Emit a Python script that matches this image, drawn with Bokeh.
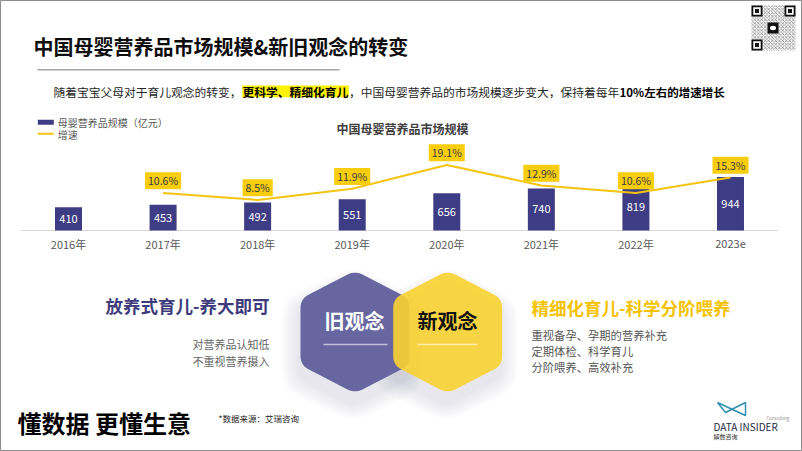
import numpy as np
from bokeh.plotting import figure
from bokeh.models import Range1d
from bokeh.core.properties import value
from bokeh.embed import file_html
from bokeh.resources import INLINE

# ---------------- data ----------------
years = ["2016年", "2017年", "2018年", "2019年", "2020年", "2021年", "2022年", "2023e"]
market_size = [410, 453, 492, 551, 656, 740, 819, 944]          # 亿元
growth_years = ["2017年", "2018年", "2019年", "2020年", "2021年", "2022年", "2023e"]
growth_rate = [10.6, 8.5, 11.9, 19.1, 12.9, 10.6, 15.3]          # %
growth_labels = [f"{g}%" for g in growth_rate]

title_text = "中国母婴营养品市场规模&新旧观念的转变"
chart_title = "中国母婴营养品市场规模"
legend_labels = ["母婴营养品规模（亿元）", "增速"]
sub_parts = ["随着宝宝父母对于育儿观念的转变，", "更科学、精细化育儿",
             "，中国母婴营养品的市场规模逐步变大，保持着每年", "10%左右的增速增长"]
old_title = "放养式育儿-养大即可"
old_points = ["对营养品认知低", "不重视营养摄入"]
new_title = "精细化育儿-科学分阶喂养"
new_points = ["重视备孕、孕期的营养补充", "定期体检、科学育儿", "分阶喂养、高效补充"]

# ---------------- layout ----------------
W, H = 802, 451
REF_W, REF_H = 802, 451
S = W / REF_W
Y_TOP = (REF_H - H / S) / 2
Y_BOT = Y_TOP + H / S
FONT = value("Noto Sans CJK SC")

BAR_COLOR = "#3E3C84"
LINE_COLOR = "#F4C40F"
BOX_COLOR = "#F8CD0E"
PURPLE = "#6866A0"
YELLOW = "#F8D230"

# chart mapping (reference pixel geometry)
X0, XSTEP = 68.0, 94.57
BASE_Y, VSCALE = 230.0, 0.0568
GBASE_Y, GSCALE = 227.5, 3.3

p = figure(width=W, height=H, x_range=Range1d(0, REF_W), y_range=Range1d(Y_BOT, Y_TOP),
           output_backend="svg", toolbar_location=None, min_border=0,
           x_axis_location=None, y_axis_location=None)
p.grid.visible = False
p.outline_line_color = "#8c8c8c"
p.outline_line_width = 1
p.background_fill_color = "white"
p.border_fill_color = "white"

p.extra_x_ranges = {"cat": Range1d((0 - X0) / XSTEP, (REF_W - X0) / XSTEP)}
p.extra_y_ranges = {
    "val": Range1d((BASE_Y - Y_BOT) / VSCALE, (BASE_Y - Y_TOP) / VSCALE),
    "g": Range1d((GBASE_Y - Y_BOT) / GSCALE, (GBASE_Y - Y_TOP) / GSCALE),
}


def fs(px):
    return f"{px * S:.2f}px"


def txt(x, y, s, size, color="#333333", bold=False, align="left", baseline="middle",
        xr="default", yr="default", **kw):
    xs = x if isinstance(x, list) else [x]
    ys = y if isinstance(y, list) else [y]
    ss = s if isinstance(s, list) else [s]
    return p.text(x=xs, y=ys, text=ss, text_font=FONT, text_font_size=fs(size),
                  text_color=color, text_font_style="bold" if bold else "normal",
                  text_align=align, text_baseline=baseline,
                  x_range_name=xr, y_range_name=yr, **kw)


# ---------------- header ----------------
txt(33, 46, title_text, 20, color="#0d0d0d", bold=True)
p.line([37, 339], [69.3, 69.3], line_color="#a6a6a6", line_width=1.5)

p.quad(left=241.7, right=348.3, top=85, bottom=96.7, fill_color="#FFF200", line_color=None)
txt(53, 91, sub_parts[0], 11.75, color="#262626")
txt(242, 91, sub_parts[1], 11.75, color="#000000", bold=True)
txt(348.5, 91, sub_parts[2], 11.75, color="#262626")
txt(619, 91, sub_parts[3], 11.5, color="#000000", bold=True)

# QR code (decorative)
p.quad(left=751, right=795, top=5, bottom=50, fill_color="white", line_color=None,
       hatch_pattern="x", hatch_color="#222222", hatch_scale=3.5, hatch_weight=0.8, hatch_alpha=0.55)
for (qx, qy) in [(751, 5), (784, 5), (751, 39)]:
    p.quad(left=qx, right=qx + 11, top=qy, bottom=qy + 11, fill_color="#111111", line_color=None)
    p.quad(left=qx + 1.8, right=qx + 9.2, top=qy + 1.8, bottom=qy + 9.2, fill_color="white", line_color=None)
    p.quad(left=qx + 3.5, right=qx + 7.5, top=qy + 3.5, bottom=qy + 7.5, fill_color="#111111", line_color=None)
p.quad(left=767, right=778, top=22, bottom=33, fill_color="#111111", line_color=None)
p.ellipse(x=[772.5], y=[27.5], width=6, height=4.5, fill_color="white", line_color=None)

# ---------------- chart ----------------
idx = list(range(len(years)))
gidx = [years.index(y) for y in growth_years]

# legend
p.quad(left=37.3, right=53.3, top=119.3, bottom=124.3, fill_color=BAR_COLOR, line_color=None)
txt(57.3, 121.8, legend_labels[0], 10, color="#595959")
p.line([37.3, 53.3], [133.3, 133.3], line_color=LINE_COLOR, line_width=2)
txt(57.3, 133.5, legend_labels[1], 10, color="#595959")

txt(402, 128, chart_title, 12, color="#404040", bold=True, align="center")

# baseline
p.segment(x0=[idx[0] - 0.5], x1=[idx[-1] + 0.5], y0=[0], y1=[0], line_color="#d9d9d9",
          line_width=1, x_range_name="cat", y_range_name="val")

# bars
p.vbar(x=idx, top=market_size, bottom=0, width=27 / XSTEP, fill_color=BAR_COLOR,
       line_color=None, x_range_name="cat", y_range_name="val")
txt(idx, [v / 2 for v in market_size], [str(v) for v in market_size], 11, color="white",
    align="center", xr="cat", yr="val")

# year labels
year_y = (BASE_Y - 243) / VSCALE
txt(idx, [year_y] * len(idx), years, 11, color="#595959", align="center", xr="cat", yr="val")

# growth line
p.line(gidx, growth_rate, line_color=LINE_COLOR, line_width=2,
       x_range_name="cat", y_range_name="g")
txt(gidx, growth_rate, growth_labels, 10.5, color="#3a3a3a", align="center",
    xr="cat", yr="g", y_offset=-12.3 * S,
    background_fill_color=BOX_COLOR, padding=(3, 1))

# ---------------- hexagons ----------------
def hexagon(cx, cy, w, h, s):
    return [(cx, cy - h), (cx + w, cy - s), (cx + w, cy + s), (cx, cy + h), (cx - w, cy + s), (cx - w, cy - s)]


def rounded_poly(pts, r, n=8):
    xs, ys = [], []
    m = len(pts)
    for i in range(m):
        V = np.array(pts[i], dtype=float)
        P = np.array(pts[i - 1], dtype=float)
        N = np.array(pts[(i + 1) % m], dtype=float)
        a = (P - V) / np.linalg.norm(P - V)
        b = (N - V) / np.linalg.norm(N - V)
        T1, T2 = V + a * r, V + b * r
        for t in np.linspace(0, 1, n):
            q = (1 - t) ** 2 * T1 + 2 * (1 - t) * t * V + t ** 2 * T2
            xs.append(q[0])
            ys.append(q[1])
    return xs, ys


HCY, HW, HH, HS, HR = 331.5, 54.5, 61.5, 33, 9
PCX, YCX = 354.5, 447.2

# soft shadows
for k in range(6):
    for cx in (PCX, YCX):
        sx, sy = rounded_poly(hexagon(cx - 2, HCY + 12, HW + 2 + 3 * k, HH + 2 + 3 * k, HS + 1 + 2 * k), HR + 2 * k)
        p.patch(sx, sy, fill_color="#4b4a80", fill_alpha=0.025, line_color=None)

px_, py_ = rounded_poly(hexagon(PCX, HCY, HW, HH, HS), HR)
p.patch(px_, py_, fill_color=PURPLE, line_color=None)
yx_, yy_ = rounded_poly(hexagon(YCX, HCY, HW, HH, HS), HR)
p.patch(yx_, yy_, fill_color=YELLOW, fill_alpha=0.9, line_color=None)

p.line([323, 387], [344, 344], line_color="white", line_alpha=0.6, line_width=1.5)
p.line([417, 477], [344, 344], line_color="white", line_alpha=0.55, line_width=1.5)

txt(354, 320, "旧观念", 20, color="white", bold=True, align="center")
txt(447, 320, "新观念", 20, color="#111111", bold=True, align="center")

# left / right descriptions
txt(269, 305, old_title, 17.5, color="#3D3B7C", bold=True, align="right")
txt([269, 269], [343.3, 360.7], old_points, 11, color="#666666", align="right")

txt(531, 306.7, new_title, 17.5, color="#F5C200", bold=True)
txt([531, 531, 531], [334.3, 350.7, 366.5], new_points, 11.3, color="#555555")

# ---------------- footer ----------------
txt(17, 421.5, "懂数据 更懂生意", 24, color="#000000", bold=True)
txt(218, 417, "*数据来源：艾瑞咨询", 8.5, color="#222222")

p.line([717, 745, 745, 725, 717], [402, 415, 402, 412, 402], line_color="#2f8fb0", line_width=1.5)
txt(766, 417, "Consulting", 4.5, color="#8c8c8c")
txt(713, 426, "DATA INSIDER", 10, color="#1f2a44")
txt(713, 435.5, "解数咨询", 6, color="#333333")

open("out.html", "w").write(file_html(p, INLINE))
